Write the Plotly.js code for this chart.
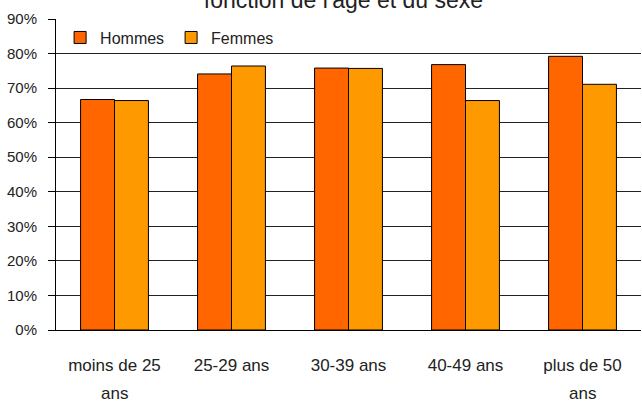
<!DOCTYPE html>
<html>
<head>
<meta charset="utf-8">
<script src="https://cdn.plot.ly/plotly-3.0.1.min.js"></script>
<style>html,body{margin:0;padding:0;background:#fff;}#chart{width:642px;height:402px;}</style>
</head>
<body>
<div id="chart"></div>
<script>
// Data
const categories = ['moins de 25 ans', '25-29 ans', '30-39 ans', '40-49 ans', 'plus de 50 ans'];
const tickLine1 = ['moins de 25', '25-29 ans', '30-39 ans', '40-49 ans', 'plus de 50'];
const tickLine2 = ['ans', '', '', '', 'ans'];
const hommes = [0.667, 0.741, 0.758, 0.768, 0.792];
const femmes = [0.664, 0.764, 0.757, 0.664, 0.711];
const titleText = "fonction de l'âge et du sexe";

const FONT = '"Liberation Sans", Arial, sans-serif';
const TXT = '#222';

const traces = [
  {type: 'bar', name: 'Hommes', x: categories, y: hommes,
   marker: {color: '#FF6600', line: {color: '#000', width: 1}}},
  {type: 'bar', name: 'Femmes', x: categories, y: femmes,
   marker: {color: '#FF9900', line: {color: '#000', width: 1}}}
];

const annotations = categories.map((c, i) => ({
  x: c, xref: 'x', y: 0, yref: 'paper', text: tickLine2[i],
  showarrow: false, yanchor: 'middle', yshift: -63,
  font: {family: FONT, size: 17, color: TXT}
})).filter(a => a.text);

const layout = {
  width: 642, height: 402,
  margin: {l: 56, r: 1, t: 19, b: 72, pad: 0},
  paper_bgcolor: '#fff', plot_bgcolor: '#fff',
  font: {family: FONT, color: TXT},
  title: {text: titleText, font: {family: FONT, size: 23, color: TXT},
          x: 0.535, xanchor: 'center', y: 1, yref: 'container', yanchor: 'middle'},
  barmode: 'group', bargap: 0.42, bargroupgap: 0,
  showlegend: true,
  legend: {orientation: 'h', x: 0.007, xanchor: 'left', y: 0.995, yanchor: 'top',
           font: {family: FONT, size: 16, color: TXT},
           bgcolor: 'rgba(0,0,0,0)', entrywidth: 66, entrywidthmode: 'pixels',
           traceorder: 'normal'},
  xaxis: {type: 'category', tickvals: categories, ticktext: tickLine1,
          showline: true, linecolor: '#000', linewidth: 1,
          ticks: '', showgrid: false, zeroline: false,
          tickfont: {family: FONT, size: 17, color: TXT},
          ticklabelstandoff: 20},
  yaxis: {range: [0, 0.9], dtick: 0.1, tick0: 0, tickformat: '.0%',
          showline: true, linecolor: '#000', linewidth: 1,
          ticks: 'outside', ticklen: 7, tickcolor: '#000', tickwidth: 1,
          showgrid: true, gridcolor: '#222', gridwidth: 1, zeroline: false,
          tickfont: {family: FONT, size: 15, color: TXT},
          ticklabelstandoff: 8},
  annotations: annotations
};

Plotly.newPlot('chart', traces, layout, {displayModeBar: false, staticPlot: true});
</script>
</body>
</html>
